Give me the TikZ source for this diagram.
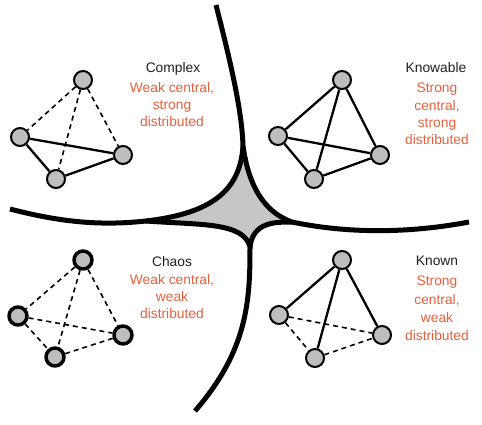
\documentclass[tikz,border=0pt]{standalone}
\usepackage{fontspec}
\setmainfont{Liberation Sans}
\definecolor{rust}{RGB}{230,96,60}
\definecolor{knot}{RGB}{190,190,190}
\definecolor{cusp}{RGB}{198,198,198}
\begin{document}
\begin{tikzpicture}[x=1pt, y=-1pt, line join=round]
\tikzset{vtx/.style={circle, draw, fill=knot, line width=2pt, minimum size=18pt, inner sep=0pt},
  vtxthick/.style={vtx, line width=3.5pt},
  weak/.style={line width=1.6pt, dash pattern=on 5pt off 4pt},
  strong/.style={line width=2.3pt},
  border/.style={line width=5pt},
  head/.style={font=\fontsize{13.8}{17.3}\selectfont, text=black!88, anchor=base, inner sep=0pt},
  note/.style={font=\fontsize{13.8}{17.3}\selectfont, text=rust, align=center, anchor=north, inner sep=0pt}}
\useasboundingbox (0,0) rectangle (482,425);
% the four domains meet in a grey cusp
\path (243,146) coordinate (T) (146,221) coordinate (L) (292,222) coordinate (R) (250,247) coordinate (B)
  (216,5) coordinate (Ttop) (10,209) coordinate (Lend) (469,222) coordinate (Rend) (195,411) coordinate (Bend);
\fill[cusp] (T) .. controls (240,195) and (205,214) .. (L) .. controls (200,225) and (244,222) .. (B)
  .. controls (253,222) and (275,222) .. (R) .. controls (270,214) and (250,195) .. (T) -- cycle;
\draw[border] (Ttop) .. controls (230,60) and (242,110) .. (T) .. controls (240,195) and (205,214) .. (L)
  .. controls (100,226) and (60,222) .. (Lend);
\draw[border] (T) .. controls (250,195) and (270,214) .. (R) .. controls (340,232) and (400,235) .. (Rend);
\draw[border] (L) .. controls (200,225) and (244,222) .. (B) .. controls (250,300) and (248,350) .. (Bend);
\draw[border] (R) .. controls (275,222) and (253,222) .. (B);
% networks
\foreach \n/\x/\y in {c1/83/80, c2/20/137, c3/123/155, c4/56/179,
  k1/342/80, k2/278/136, k3/380/155, k4/314/179,
  n1/342/260, n2/279/315, n3/382/335, n4/315/358}
  \node[vtx] (\n) at (\x,\y) {};
\foreach \n/\x/\y in {h1/83/260, h2/18/316, h3/123/335, h4/55/357}
  \node[vtxthick] (\n) at (\x,\y) {};
\foreach \a/\b in {c2/c3, c2/c4, c4/c3, k1/k2, k1/k3, k1/k4, k2/k3, k2/k4, k4/k3, n1/n2, n1/n3, n1/n4}
  \draw[strong] (\a) -- (\b);
\foreach \a/\b in {c1/c2, c1/c4, c1/c3, h1/h2, h1/h3, h1/h4, h2/h3, h2/h4, h4/h3, n2/n3, n2/n4, n4/n3}
  \draw[weak] (\a) -- (\b);
% labels
\node[head] (complex) at (173,72.3) {Complex};
\node[note] (complexnote) at (172,82) {Weak central,\\strong\\distributed};
\node[head] (knowable) at (436,72.3) {Knowable};
\node[note] (knowablenote) at (437,83) {Strong\\central,\\strong\\distributed};
\node[head] (chaos) at (172,266) {Chaos};
\node[note] (chaosnote) at (172,274) {Weak central,\\weak\\distributed};
\node[head] (known) at (437,265.3) {Known};
\node[note, font=\fontsize{13.8}{18.3}\selectfont] (knownnote) at (437,276) {Strong\\central,\\weak\\distributed};
\end{tikzpicture}
\end{document}
